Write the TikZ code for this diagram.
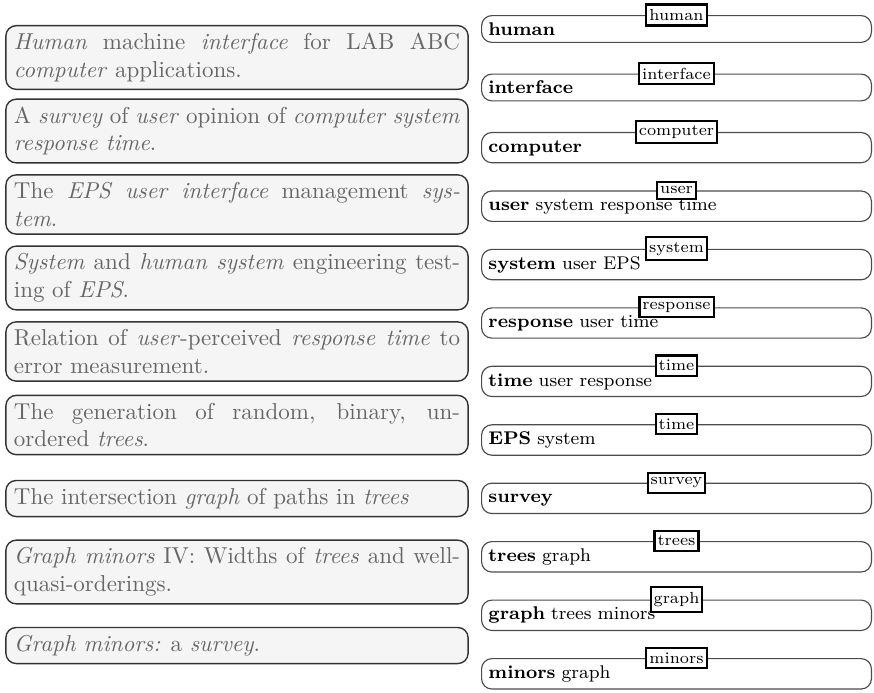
\documentclass[tikz,border=0pt]{standalone}
\usepackage{tikz}

%bold key word at the head of each term row
\newcommand{\kw}[1]{\textbf{#1}}

\tikzset{
  %grey title boxes on the left
  docbox/.style={draw=black!80, line width=0.6pt, fill=black!4, text=black!60,
    rounded corners=4.5pt, text width=194pt, align=justify,
    inner xsep=3.5pt, inner ysep=3.3pt},
  %one row per term on the right
  termrow/.style={draw=black!70, line width=0.5pt, rounded corners=4.5pt,
    anchor=north west, text width=163.5pt, align=left, text height=5.6pt,
    inner xsep=3pt, inner ysep=3pt, font=\footnotesize},
  %small framed tag sitting on the top edge of a row
  termtag/.style={draw=black, line width=0.9pt, fill=white, font=\scriptsize,
    inner xsep=1.3pt, inner ysep=2.1pt}
}

\begin{document}
\begin{tikzpicture}[x=0.4348pt, y=-0.4348pt]
  \useasboundingbox (0,0) rectangle (874,692);

  %The titles, one box each (centres 73.5 apart).
  \node[docbox] (d1) at (237,57.5) {\emph{Human} machine \emph{interface} for LAB ABC\linebreak
    \emph{computer} applications.};
  \node[docbox] (d2) at (237,131) {A \emph{survey} of \emph{user} opinion of \emph{computer system}\linebreak
    \emph{response time}.};
  \node[docbox] (d3) at (237,204.5) {The \emph{EPS user interface} management \emph{sys-}\linebreak
    \emph{tem}.};
  \node[docbox] (d4) at (237,278) {\emph{System} and \emph{human system} engineering test-\linebreak
    ing of \emph{EPS}.};
  \node[docbox] (d5) at (237,351.5) {Relation of \emph{user}-perceived \emph{response time} to\linebreak
    error measurement.};
  \node[docbox] (d6) at (237,425) {The generation of random, binary, un-\linebreak
    ordered \emph{trees}.};
  \node[docbox] (d7) at (237,498.5) {The intersection \emph{graph} of paths in \emph{trees}};
  \node[docbox] (d8) at (237,572) {\emph{Graph minors} IV: Widths of \emph{trees} and well-\linebreak
    quasi-orderings.};
  \node[docbox] (d9) at (237,645.5) {\emph{Graph minors:} a \emph{survey}.};

  %The terms: rows are 58.45 apart, tag on the top edge of each row.
  \node[termrow] (t1) at (481,15) {\kw{human}};
  \node[termtag] (g1) at (t1.north) {human};
  \node[termrow] (t2) at (481,73.5) {\kw{interface}};
  \node[termtag] (g2) at (t2.north) {interface};
  \node[termrow] (t3) at (481,131.9) {\kw{computer}};
  \node[termtag] (g3) at (t3.north) {computer};
  \node[termrow] (t4) at (481,190.4) {\kw{user} system response time};
  \node[termtag] (g4) at (t4.north) {user};
  \node[termrow] (t5) at (481,248.8) {\kw{system} user EPS};
  \node[termtag] (g5) at (t5.north) {system};
  \node[termrow] (t6) at (481,307.3) {\kw{response} user time};
  \node[termtag] (g6) at (t6.north) {response};
  \node[termrow] (t7) at (481,365.7) {\kw{time} user response};
  \node[termtag] (g7) at (t7.north) {time};
  \node[termrow] (t8) at (481,424.2) {\kw{EPS} system};
  \node[termtag] (g8) at (t8.north) {time}; %same tag as the row above
  \node[termrow] (t9) at (481,482.6) {\kw{survey}};
  \node[termtag] (g9) at (t9.north) {survey};
  \node[termrow] (t10) at (481,541) {\kw{trees} graph};
  \node[termtag] (g10) at (t10.north) {trees};
  \node[termrow] (t11) at (481,599.5) {\kw{graph} trees minors};
  \node[termtag] (g11) at (t11.north) {graph};
  \node[termrow] (t12) at (481,658) {\kw{minors} graph};
  \node[termtag] (g12) at (t12.north) {minors};
\end{tikzpicture}
\end{document}
